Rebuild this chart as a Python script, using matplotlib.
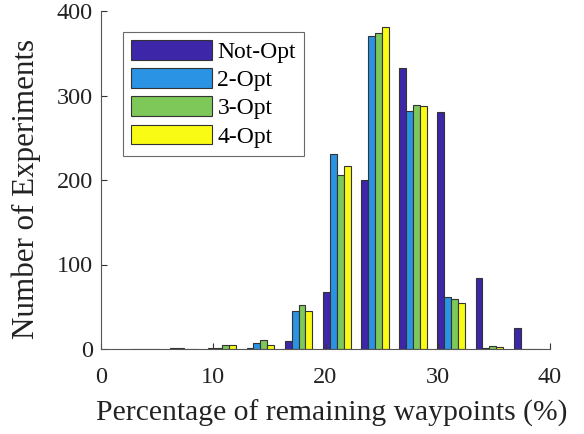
import matplotlib
matplotlib.use("Agg")
import matplotlib.pyplot as plt
import numpy as np

plt.rcParams['font.family'] = ['Liberation Serif', 'DejaVu Serif']

bin_centers = [4.0, 7.4, 10.8, 14.2, 17.6, 21.0, 24.4, 27.8, 31.2, 34.6, 38.0]
series_names = ['Not-Opt', '2-Opt', '3-Opt', '4-Opt']
not_opt = [0, 1, 1, 1, 9, 68, 200, 333, 280, 84, 25]
opt2 = [0, 1, 1, 7, 45, 231, 370, 282, 61, 1, 0]
opt3 = [0, 0, 5, 11, 52, 206, 374, 289, 59, 4, 0]
opt4 = [0, 0, 5, 5, 45, 217, 381, 288, 55, 2, 0]
colors = ['#3e26a8', '#2a93e4', '#7ec85a', '#f9fb15']
xticks = [0, 10, 20, 30, 40]
yticks = [0, 100, 200, 300, 400]

fig = plt.figure(figsize=(5.84, 4.34), dpi=100)
ax = fig.add_axes([101/584, 1-349/434, 449/584, 338/434])

series = [not_opt, opt2, opt3, opt4]
spacing = bin_centers[1] - bin_centers[0]
group_w = spacing * 4 / 5.5
bw = group_w / 4
centers = np.array(bin_centers)
for i, (vals, c, name) in enumerate(zip(series, colors, series_names)):
    offs = -group_w/2 + bw*(i+0.5)
    ax.bar(centers + offs, vals, width=bw, color=c, edgecolor='#333333',
           linewidth=0.8, label=name)

ax.set_xlim(0, 40)
ax.set_ylim(0, 400)
ax.set_xticks(xticks)
ax.set_yticks(yticks)
ax.tick_params(direction='in', labelsize=17.5, length=4, width=0.8, colors='#333333',
               labelcolor='#222222')
ax.tick_params(axis='x', pad=13)
ax.tick_params(axis='y', pad=6)
for s in ['top', 'right']:
    ax.spines[s].set_visible(False)
for s in ['left', 'bottom']:
    ax.spines[s].set_color('#555555')
    ax.spines[s].set_linewidth(0.8)

ax.set_xlabel('Percentage of remaining waypoints (%)', fontsize=21.3, color='#222222')
ax.set_ylabel('Number of Experiments', fontsize=22.3, color='#222222')
ax.xaxis.set_label_coords(0.514, -0.15)
ax.yaxis.set_label_coords(-0.133, 0.475)

leg = ax.legend(loc='upper left', bbox_to_anchor=(0.049, 0.938), fontsize=17,
                frameon=True, fancybox=False, handlelength=3.4, handleheight=0.9,
                borderpad=0.35, labelspacing=0.22, handletextpad=0.25,
                borderaxespad=0)
leg.get_frame().set_edgecolor('#444444')
leg.get_frame().set_linewidth(0.8)

fig.savefig('out.png', dpi=100)
